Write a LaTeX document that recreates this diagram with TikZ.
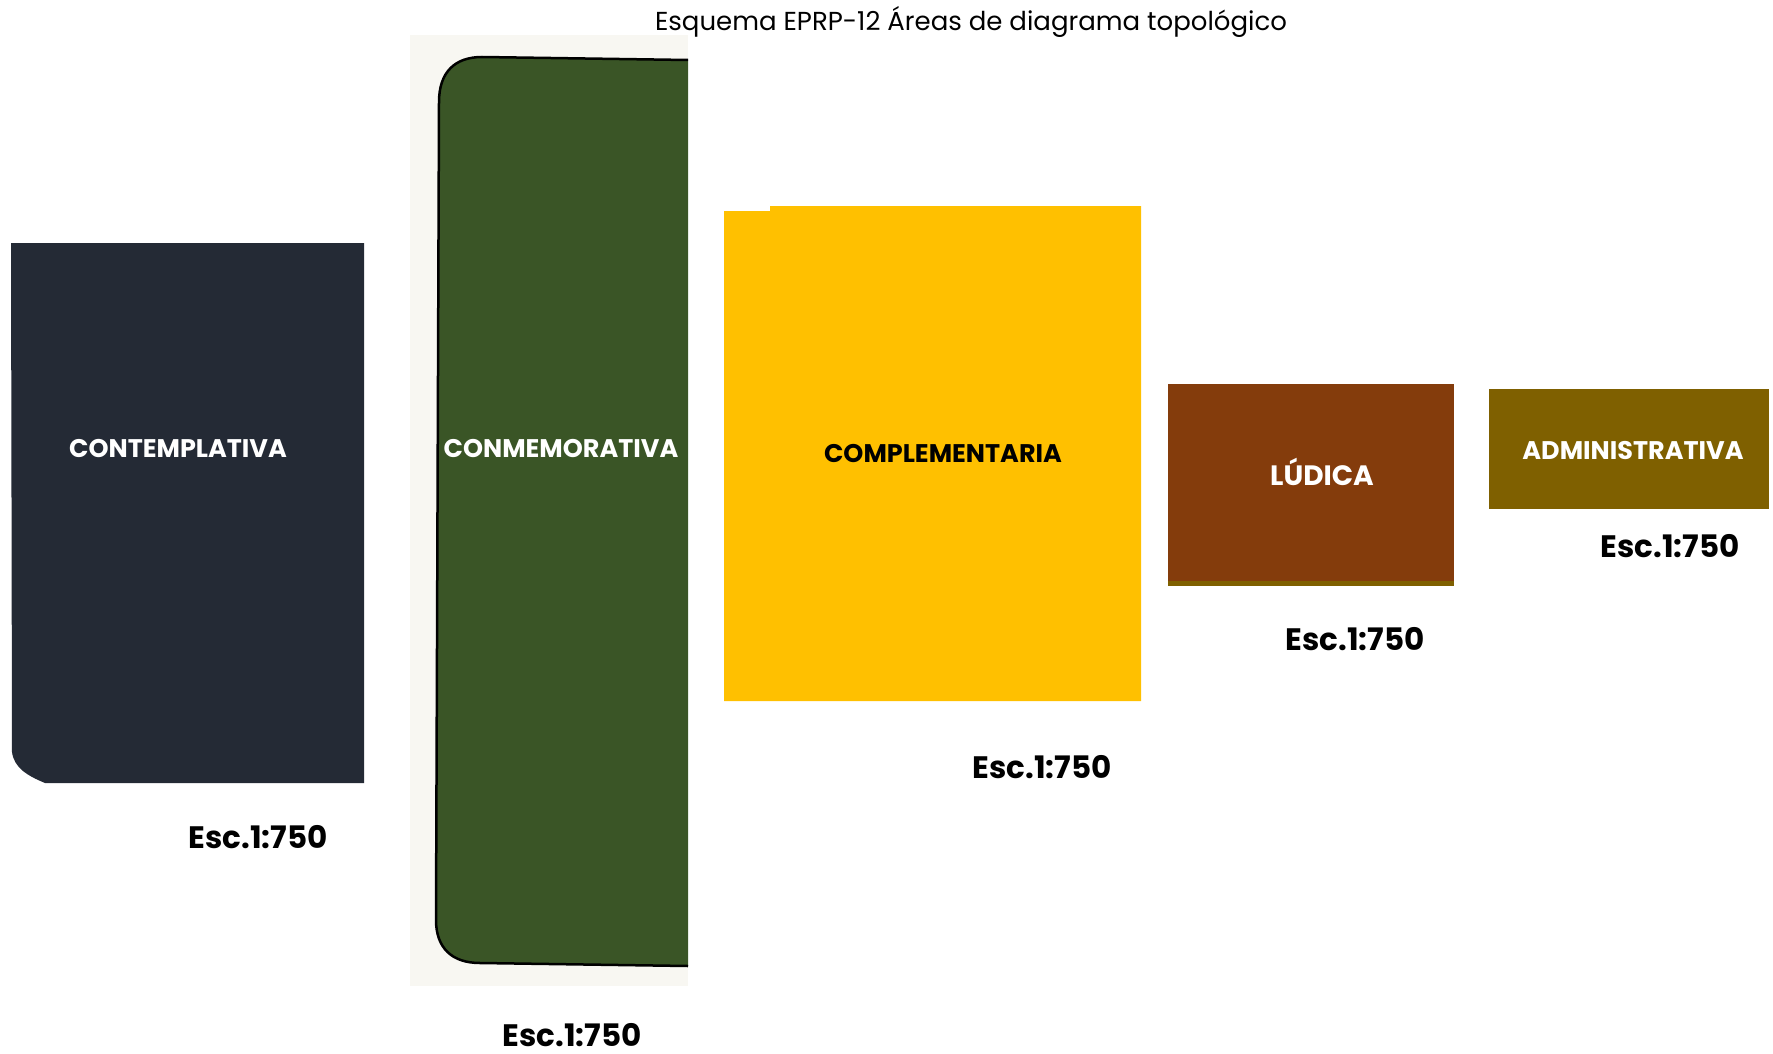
\documentclass[tikz,border=0pt]{standalone}
\usepackage{fontspec}
\setmainfont{Poppins}
\definecolor{navy}{HTML}{242A35}
\definecolor{moss}{HTML}{3A5526}
\definecolor{amber}{HTML}{FFC000}
\definecolor{rust}{HTML}{843C0C}
\definecolor{olive}{HTML}{7F6000}
\definecolor{cream}{HTML}{F8F7F2}
\begin{document}
\begin{tikzpicture}[x=1pt,y=-1pt,
  lbl/.style={font=\bfseries\fontsize{25.5}{30}\selectfont, anchor=base, inner sep=0pt},
  esc/.style={font=\bfseries\fontsize{31}{36}\selectfont, anchor=base, inner sep=0pt, text=black}]
\useasboundingbox (0,0) rectangle (1773,1054);
% CONTEMPLATIVA
\fill[navy] (11,243) -- (364,243) -- (364,783) -- (45,783)
  .. controls (28,776) and (14,768) .. (12,752) -- cycle;
% CONMEMORATIVA
\fill[cream] (410,35) rectangle (688,986);
\fill[moss] (688,60) -- (482,57) .. controls (455,57) and (439,72) .. (439,102)
  -- (436,920) .. controls (436,948) and (452,963) .. (480,963) -- (688,966) -- cycle;
\draw[black, line width=2.5pt] (688,60) -- (482,57) .. controls (455,57) and (439,72) .. (439,102)
  -- (436,920) .. controls (436,948) and (452,963) .. (480,963) -- (688,966);
% COMPLEMENTARIA
\fill[amber] (724,211) -- (770,211) -- (770,206) -- (1141,206) -- (1141,701) -- (724,701) -- cycle;
% LUDICA
\fill[rust] (1168,384) rectangle (1454,586);
\fill[olive] (1168,581) rectangle (1454,586);
% ADMINISTRATIVA
\fill[olive] (1489,389) rectangle (1769,509);

% labels
\node[anchor=base, inner sep=0pt, font=\fontsize{26}{30}\selectfont] (title) at (971,31) {Esquema EPRP-12 Áreas de diagrama topológico};
\node[lbl, text=white] (contl) at (178,457) {CONTEMPLATIVA};
\node[lbl, text=white] (conml) at (561,457) {CONMEMORATIVA};
\node[lbl, text=black] (compl) at (943,462) {COMPLEMENTARIA};
\node[lbl, text=white, font=\bfseries\fontsize{28}{32}\selectfont] (ludl) at (1322,485) {LÚDICA};
\node[lbl, text=white] (adml) at (1633,459) {ADMINISTRATIVA};
\node[esc] (conte) at (258,848) {Esc.1:750};
\node[esc] (conme) at (572,1046) {Esc.1:750};
\node[esc] (compe) at (1042,778) {Esc.1:750};
\node[esc] (lude) at (1355,650) {Esc.1:750};
\node[esc] (adme) at (1670,557) {Esc.1:750};
\end{tikzpicture}
\end{document}
